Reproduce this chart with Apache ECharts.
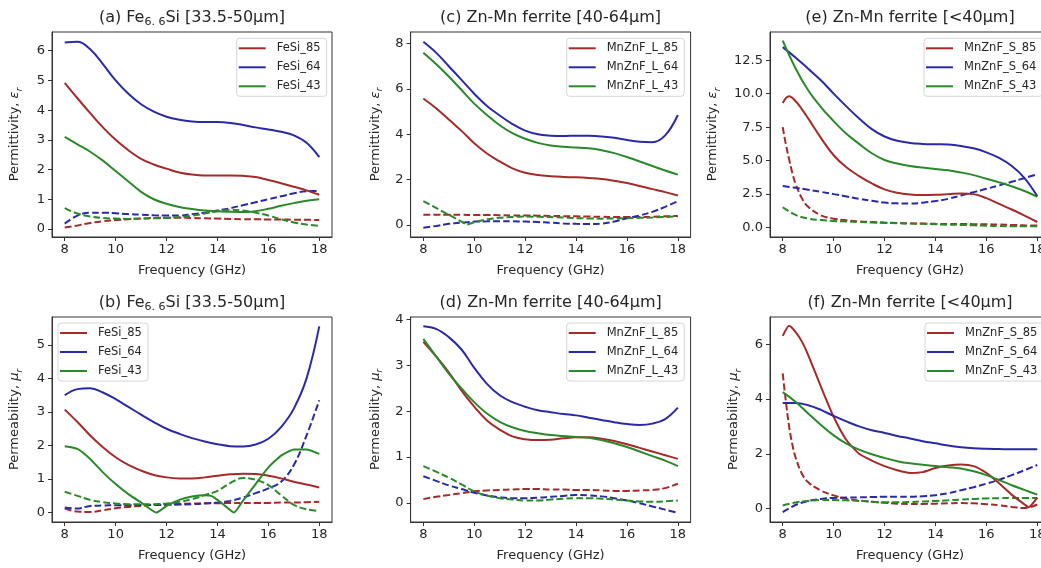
<!DOCTYPE html>
<html>
<head>
<meta charset="utf-8">
<script src="https://cdn.jsdelivr.net/npm/echarts@6/dist/echarts.min.js"></script>
<style>
  html, body { margin: 0; padding: 0; overflow: hidden; background: #fff; }
  #chart { width: 1056px; height: 568px; }
</style>
</head>
<body>
<div id="chart"></div>
<script>
// Frequency grids (GHz)
const freq = [8, 8.5, 9, 9.5, 10, 10.5, 11, 11.5, 12, 12.5, 13, 13.5, 14, 14.5, 15, 15.5, 16, 16.5, 17, 17.5, 18];
const freqFine = [8, 8.25, 8.5, 8.75, 9, 9.5, 10, 10.5, 11, 11.5, 12, 12.5, 13, 13.5, 14, 14.5, 15, 15.5, 16, 16.5, 17, 17.5, 18];
const freqSteep = [8, 8.125, 8.25, 8.375, 8.5, 8.75, 9, 9.5, 10, 10.5, 11, 11.5, 12, 12.5, 13, 13.5, 14, 14.5, 15, 15.5, 16, 16.5, 17, 17.5, 18];
const freqB43 = [8, 8.5, 9, 9.5, 10, 10.5, 11, 11.6, 12, 12.5, 13, 13.5, 13.75, 14, 14.3, 14.65, 15, 15.5, 16, 16.5, 17, 17.5, 18];
const freqC43 = [8, 8.5, 9, 9.5, 9.7, 10, 10.5, 11, 11.5, 12, 13, 14, 15, 16, 17, 18];
const freqF85 = [8, 8.25, 8.5, 8.75, 9, 9.5, 10, 10.5, 11, 11.5, 12, 12.5, 13, 13.5, 14, 14.5, 15, 15.5, 16, 16.5, 17, 17.5, 17.65, 18];

// Axis ticks
const xTicks = [8, 10, 12, 14, 16, 18];
const yTicksA = [0, 1, 2, 3, 4, 5, 6];
const yTicksB = [0, 1, 2, 3, 4, 5];
const yTicksC = [0, 2, 4, 6, 8];
const yTicksD = [0, 1, 2, 3, 4];
const yTicksE = [0, 2.5, 5, 7.5, 10, 12.5];
const yTicksF = [0, 2, 4, 6];

// (a) Fe6.6Si permittivity: real (solid) and imaginary (dashed)
const epsFeSi85 = [4.92, 4.4, 3.9, 3.42, 3.0, 2.65, 2.36, 2.17, 2.03, 1.9, 1.83, 1.8, 1.8, 1.8, 1.79, 1.75, 1.65, 1.54, 1.42, 1.3, 1.15];
const epsFeSi64 = [6.28, 6.3, 6.05, 5.55, 5.0, 4.55, 4.2, 3.95, 3.78, 3.68, 3.62, 3.6, 3.6, 3.57, 3.5, 3.42, 3.35, 3.27, 3.15, 2.9, 2.42];
const epsFeSi43 = [3.1, 2.85, 2.6, 2.3, 1.95, 1.6, 1.25, 1.0, 0.85, 0.74, 0.67, 0.62, 0.6, 0.58, 0.57, 0.6, 0.68, 0.78, 0.87, 0.95, 1.0];
const epsImFeSi85 = [0.05, 0.12, 0.2, 0.26, 0.3, 0.33, 0.35, 0.37, 0.38, 0.38, 0.37, 0.36, 0.35, 0.34, 0.33, 0.33, 0.32, 0.32, 0.31, 0.31, 0.3];
const epsImFeSi64 = [0.18, 0.45, 0.55, 0.55, 0.53, 0.5, 0.48, 0.46, 0.45, 0.45, 0.5, 0.55, 0.62, 0.7, 0.8, 0.9, 1.0, 1.1, 1.2, 1.27, 1.28];
const epsImFeSi43 = [0.7, 0.52, 0.42, 0.37, 0.35, 0.34, 0.35, 0.36, 0.37, 0.4, 0.45, 0.52, 0.6, 0.65, 0.62, 0.55, 0.45, 0.33, 0.22, 0.15, 0.1];

// (b) Fe6.6Si permeability
const muFeSi85 = [3.07, 2.7, 2.3, 1.95, 1.65, 1.42, 1.25, 1.12, 1.05, 1.02, 1.02, 1.05, 1.1, 1.14, 1.16, 1.15, 1.1, 1.02, 0.92, 0.84, 0.75];
const muFeSi64 = [3.5, 3.68, 3.71, 3.58, 3.38, 3.15, 2.92, 2.7, 2.5, 2.35, 2.22, 2.12, 2.04, 1.98, 1.97, 2.03, 2.2, 2.55, 3.1, 4.0, 5.55];
const muFeSi43 = [1.98, 1.9, 1.6, 1.2, 0.85, 0.55, 0.3, 0.0, 0.2, 0.38, 0.48, 0.52, 0.5, 0.38, 0.2, 0.0, 0.35, 0.85, 1.35, 1.7, 1.88, 1.88, 1.75];
const muImFeSi85 = [0.12, 0.03, 0.02, 0.07, 0.13, 0.17, 0.2, 0.23, 0.25, 0.26, 0.27, 0.28, 0.28, 0.29, 0.29, 0.29, 0.29, 0.3, 0.3, 0.31, 0.32];
const muImFeSi64 = [0.15, 0.12, 0.2, 0.21, 0.22, 0.22, 0.23, 0.23, 0.23, 0.24, 0.25, 0.27, 0.3, 0.35, 0.45, 0.58, 0.72, 0.92, 1.42, 2.3, 3.35];
const muImFeSi43 = [0.62, 0.5, 0.38, 0.31, 0.27, 0.25, 0.25, 0.25, 0.27, 0.32, 0.4, 0.52, 0.65, 0.88, 1.03, 0.98, 0.82, 0.52, 0.23, 0.1, 0.05];

// (c) Zn-Mn ferrite 40-64 um permittivity
const epsL85 = [5.58, 5.15, 4.65, 4.15, 3.6, 3.15, 2.8, 2.5, 2.3, 2.2, 2.15, 2.12, 2.1, 2.07, 2.03, 1.95, 1.85, 1.72, 1.58, 1.45, 1.3];
const epsL64 = [8.08, 7.6, 7.0, 6.4, 5.79, 5.25, 4.83, 4.45, 4.16, 4.0, 3.94, 3.92, 3.94, 3.93, 3.9, 3.85, 3.75, 3.67, 3.65, 3.95, 4.85];
const epsL43 = [7.6, 7.1, 6.55, 5.95, 5.35, 4.85, 4.4, 4.05, 3.8, 3.62, 3.5, 3.45, 3.42, 3.38, 3.3, 3.17, 3.0, 2.8, 2.6, 2.4, 2.22];
const epsImL85 = [0.45, 0.45, 0.45, 0.45, 0.44, 0.44, 0.43, 0.42, 0.42, 0.41, 0.4, 0.39, 0.38, 0.37, 0.36, 0.35, 0.35, 0.35, 0.36, 0.38, 0.4];
const epsImL64 = [-0.12, -0.04, 0.05, 0.1, 0.15, 0.16, 0.17, 0.16, 0.15, 0.13, 0.1, 0.07, 0.05, 0.04, 0.06, 0.15, 0.3, 0.42, 0.58, 0.8, 1.05];
const epsImL43 = [1.05, 0.75, 0.45, 0.15, 0.02, 0.12, 0.25, 0.32, 0.35, 0.37, 0.35, 0.3, 0.28, 0.3, 0.33, 0.38];

// (d) Zn-Mn ferrite 40-64 um permeability
const muL85 = [3.52, 3.2, 2.85, 2.45, 2.1, 1.8, 1.6, 1.45, 1.39, 1.37, 1.38, 1.41, 1.43, 1.43, 1.4, 1.35, 1.28, 1.2, 1.12, 1.04, 0.96];
const muL64 = [3.86, 3.8, 3.62, 3.35, 2.95, 2.6, 2.35, 2.2, 2.1, 2.02, 1.98, 1.94, 1.91, 1.86, 1.81, 1.76, 1.72, 1.7, 1.73, 1.83, 2.08];
const muL43 = [3.58, 3.2, 2.82, 2.5, 2.2, 1.95, 1.77, 1.65, 1.57, 1.52, 1.48, 1.46, 1.44, 1.42, 1.37, 1.3, 1.22, 1.12, 1.02, 0.92, 0.8];
const muImL85 = [0.08, 0.13, 0.17, 0.21, 0.25, 0.27, 0.28, 0.29, 0.3, 0.3, 0.29, 0.29, 0.28, 0.28, 0.27, 0.26, 0.26, 0.27, 0.28, 0.32, 0.42];
const muImL64 = [0.58, 0.48, 0.38, 0.3, 0.22, 0.16, 0.12, 0.1, 0.1, 0.11, 0.13, 0.15, 0.17, 0.16, 0.14, 0.1, 0.05, -0.01, -0.08, -0.15, -0.22];
const muImL43 = [0.8, 0.68, 0.55, 0.4, 0.25, 0.16, 0.1, 0.07, 0.05, 0.05, 0.07, 0.09, 0.1, 0.1, 0.09, 0.07, 0.05, 0.03, 0.02, 0.03, 0.05];

// (e) Zn-Mn ferrite <40 um permittivity
const epsS85 = [9.3, 9.8, 9.45, 8.85, 8.15, 6.7, 5.4, 4.5, 3.85, 3.3, 2.85, 2.6, 2.47, 2.43, 2.45, 2.5, 2.55, 2.5, 2.2, 1.77, 1.35, 0.9, 0.42];
const epsS64 = [13.47, 12.7, 11.86, 11.0, 10.0, 9.05, 8.15, 7.35, 6.8, 6.48, 6.32, 6.25, 6.22, 6.2, 6.1, 5.92, 5.62, 5.2, 4.6, 3.7, 2.35];
const epsS43 = [13.95, 11.9, 10.25, 9.0, 7.95, 7.0, 6.25, 5.55, 5.05, 4.78, 4.6, 4.48, 4.38, 4.28, 4.12, 3.92, 3.65, 3.38, 3.08, 2.73, 2.3];
const epsImS85 = [7.5, 6.2, 5.1, 4.1, 3.3, 2.2, 1.55, 0.92, 0.67, 0.55, 0.47, 0.42, 0.38, 0.35, 0.32, 0.3, 0.28, 0.27, 0.27, 0.26, 0.25, 0.23, 0.2, 0.17, 0.15];
const epsImS64 = [3.1, 2.97, 2.83, 2.67, 2.5, 2.33, 2.15, 2.0, 1.87, 1.81, 1.8, 1.86, 1.98, 2.15, 2.4, 2.65, 2.9, 3.15, 3.42, 3.7, 3.98];
const epsImS43 = [1.52, 0.95, 0.68, 0.57, 0.5, 0.45, 0.42, 0.38, 0.35, 0.33, 0.3, 0.28, 0.25, 0.22, 0.2, 0.17, 0.14, 0.12, 0.1, 0.1, 0.1];

// (f) Zn-Mn ferrite <40 um permeability
const muS85 = [6.3, 6.67, 6.45, 6.1, 5.6, 4.45, 3.35, 2.5, 2.0, 1.75, 1.55, 1.4, 1.3, 1.33, 1.48, 1.57, 1.61, 1.55, 1.3, 0.92, 0.5, 0.15, 0.05, 0.4];
const muS64 = [3.85, 3.85, 3.77, 3.6, 3.38, 3.18, 3.0, 2.86, 2.76, 2.65, 2.56, 2.46, 2.38, 2.3, 2.24, 2.2, 2.18, 2.17, 2.16, 2.16, 2.16];
const muS43 = [4.25, 3.9, 3.47, 3.05, 2.67, 2.37, 2.15, 1.98, 1.85, 1.73, 1.65, 1.6, 1.55, 1.51, 1.46, 1.36, 1.22, 1.04, 0.85, 0.68, 0.51];
const muImS85 = [4.93, 3.9, 3.0, 2.35, 1.88, 1.28, 0.96, 0.66, 0.48, 0.36, 0.29, 0.25, 0.21, 0.18, 0.17, 0.17, 0.18, 0.19, 0.2, 0.19, 0.16, 0.12, 0.06, 0.02, 0.15];
const muImS64 = [-0.13, 0.13, 0.28, 0.35, 0.39, 0.4, 0.41, 0.42, 0.43, 0.43, 0.43, 0.45, 0.49, 0.56, 0.67, 0.78, 0.91, 1.05, 1.22, 1.4, 1.59];
const muImS43 = [0.11, 0.22, 0.28, 0.31, 0.31, 0.3, 0.28, 0.25, 0.23, 0.23, 0.24, 0.26, 0.28, 0.3, 0.33, 0.35, 0.37, 0.38, 0.39, 0.39, 0.39];

const FONT = 'DejaVu Sans';
const RED = '#a52a2a';
const BLUE = '#2a2aa8';
const GREEN = '#2a8a2a';
const INK = '#262626';

const COLS = [52, 410.6, 770];
const ROWS = [32, 317];
const PW = 280, PH = 205;

const EPS_NAME = 'Permittivity, {m|ε}{s|r}';
const MU_NAME = 'Permeability, {m|μ}{s|r}';

function line(name, xs, ys, color, dashed, smooth) {
  return { name, xs, ys, color, dashed, smooth: smooth == null ? 0.4 : smooth };
}

const panels = [
  { col: 0, row: 0, title: '(a) Fe{s|6. 6}Si [33.5-50μm]', ymin: -0.27, ymax: 6.63, ticks: yTicksA,
    yname: EPS_NAME, nameGap: 28, legend: { left: 236.7, top: 38.3 },
    lines: [
      line('FeSi_85', freq, epsFeSi85, RED), line('FeSi_64', freq, epsFeSi64, BLUE), line('FeSi_43', freq, epsFeSi43, GREEN),
      line('FeSi_85 imag', freq, epsImFeSi85, RED, true), line('FeSi_64 imag', freq, epsImFeSi64, BLUE, true), line('FeSi_43 imag', freq, epsImFeSi43, GREEN, true)
    ] },
  { col: 0, row: 1, title: '(b) Fe{s|6. 6}Si [33.5-50μm]', ymin: -0.28, ymax: 5.83, ticks: yTicksB,
    yname: MU_NAME, nameGap: 28, legend: { left: 58, top: 323 },
    lines: [
      line('FeSi_85', freq, muFeSi85, RED), line('FeSi_64', freq, muFeSi64, BLUE), line('FeSi_43', freqB43, muFeSi43, GREEN, false, 0.15),
      line('FeSi_85 imag', freq, muImFeSi85, RED, true), line('FeSi_64 imag', freq, muImFeSi64, BLUE, true), line('FeSi_43 imag', freq, muImFeSi43, GREEN, true)
    ] },
  { col: 1, row: 0, title: '(c) Zn-Mn ferrite [40-64μm]', ymin: -0.53, ymax: 8.51, ticks: yTicksC,
    yname: EPS_NAME, nameGap: 26, legend: { left: 566.7, top: 38.3 },
    lines: [
      line('MnZnF_L_85', freq, epsL85, RED), line('MnZnF_L_64', freq, epsL64, BLUE), line('MnZnF_L_43', freq, epsL43, GREEN),
      line('MnZnF_L_85 imag', freq, epsImL85, RED, true), line('MnZnF_L_64 imag', freq, epsImL64, BLUE, true), line('MnZnF_L_43 imag', freqC43, epsImL43, GREEN, true, 0.15)
    ] },
  { col: 1, row: 1, title: '(d) Zn-Mn ferrite [40-64μm]', ymin: -0.42, ymax: 4.06, ticks: yTicksD,
    yname: MU_NAME, nameGap: 26, legend: { left: 566.7, top: 323 },
    lines: [
      line('MnZnF_L_85', freq, muL85, RED), line('MnZnF_L_64', freq, muL64, BLUE), line('MnZnF_L_43', freq, muL43, GREEN),
      line('MnZnF_L_85 imag', freq, muImL85, RED, true), line('MnZnF_L_64 imag', freq, muImL64, BLUE, true), line('MnZnF_L_43 imag', freq, muImL43, GREEN, true)
    ] },
  { col: 2, row: 0, title: '(e) Zn-Mn ferrite [<40μm]', ymin: -0.7, ymax: 14.6, ticks: yTicksE, fixed: 1,
    yname: EPS_NAME, nameGap: 48, legend: { left: 924, top: 38.3 },
    lines: [
      line('MnZnF_S_85', freqFine, epsS85, RED), line('MnZnF_S_64', freq, epsS64, BLUE), line('MnZnF_S_43', freq, epsS43, GREEN),
      line('MnZnF_S_85 imag', freqSteep, epsImS85, RED, true), line('MnZnF_S_64 imag', freq, epsImS64, BLUE, true), line('MnZnF_S_43 imag', freq, epsImS43, GREEN, true)
    ] },
  { col: 2, row: 1, title: '(f) Zn-Mn ferrite [<40μm]', ymin: -0.49, ymax: 6.99, ticks: yTicksF,
    yname: MU_NAME, nameGap: 27, legend: { left: 925, top: 323 },
    lines: [
      line('MnZnF_S_85', freqF85, muS85, RED, false, 0.2), line('MnZnF_S_64', freq, muS64, BLUE), line('MnZnF_S_43', freq, muS43, GREEN),
      line('MnZnF_S_85 imag', freqSteep, muImS85, RED, true), line('MnZnF_S_64 imag', freq, muImS64, BLUE, true), line('MnZnF_S_43 imag', freq, muImS43, GREEN, true)
    ] }
];

const tickFont = { fontFamily: FONT, fontSize: 13, color: INK };

const option = {
  animation: false,
  backgroundColor: '#fff',
  textStyle: { fontFamily: FONT },
  title: [], grid: [], xAxis: [], yAxis: [], legend: [], series: []
};

panels.forEach((p, i) => {
  const left = COLS[p.col], top = ROWS[p.row];
  option.title.push({
    text: p.title, left: left + PW / 2, top: top - 24, textAlign: 'center', padding: 0,
    textStyle: {
      fontFamily: FONT, fontSize: 16, fontWeight: 'normal', color: INK, lineHeight: 20,
      rich: { s: { fontFamily: FONT, fontSize: 11, lineHeight: 11, verticalAlign: 'bottom', color: INK } }
    }
  });
  option.grid.push({
    left, top, width: PW, height: PH, show: true, borderColor: '#333', borderWidth: 1, containLabel: false
  });
  option.xAxis.push({
    type: 'value', gridIndex: i, min: 7.5, max: 18.5,
    name: 'Frequency (GHz)', nameLocation: 'middle', nameGap: 27,
    nameTextStyle: { fontFamily: FONT, fontSize: 13, color: INK },
    axisLine: { show: true, onZero: false, lineStyle: { color: '#333', width: 1 } },
    axisTick: { show: true, length: 4, customValues: xTicks, lineStyle: { color: '#333' } },
    axisLabel: Object.assign({ customValues: xTicks, margin: 6 }, tickFont),
    splitLine: { show: false }
  });
  option.yAxis.push({
    type: 'value', gridIndex: i, min: p.ymin, max: p.ymax,
    name: p.yname, nameLocation: 'middle', nameRotate: 90, nameGap: p.nameGap,
    nameTextStyle: {
      fontFamily: FONT, fontSize: 13, color: INK, lineHeight: 18,
      rich: {
        m: { fontFamily: FONT, fontSize: 13, fontStyle: 'italic', color: INK, lineHeight: 18 },
        s: { fontFamily: FONT, fontSize: 9, fontStyle: 'italic', color: INK, lineHeight: 10, verticalAlign: 'bottom' }
      }
    },
    axisLine: { show: true, onZero: false, lineStyle: { color: '#333', width: 1 } },
    axisTick: { show: true, length: 4, customValues: p.ticks, lineStyle: { color: '#333' } },
    axisLabel: Object.assign({
      customValues: p.ticks, margin: 7,
      formatter: v => (p.fixed ? v.toFixed(p.fixed) : String(v))
    }, tickFont),
    splitLine: { show: false }
  });
  option.legend.push({
    data: p.lines.filter(l => !l.dashed).map(l => l.name),
    left: p.legend.left, top: p.legend.top, orient: 'vertical',
    icon: 'rect', itemWidth: 27, itemHeight: 2, itemGap: 5,
    padding: [3, 6, 3, 2],
    borderColor: '#d6d6d6', borderWidth: 1, borderRadius: 3,
    backgroundColor: 'rgba(255,255,255,0.8)',
    selectedMode: false,
    textStyle: { fontFamily: FONT, fontSize: 11.5, color: INK, lineHeight: 14, padding: [0, 0, 0, 6] }
  });
  p.lines.forEach(l => {
    option.series.push({
      type: 'line', name: l.name, xAxisIndex: i, yAxisIndex: i,
      data: l.xs.map((x, k) => [x, l.ys[k]]),
      showSymbol: false, symbol: 'none', smooth: l.smooth, silent: true,
      itemStyle: { color: l.color },
      lineStyle: { color: l.color, width: 2, type: l.dashed ? [7, 3] : 'solid' },
      z: l.dashed ? 2 : 3
    });
  });
});

const chart = echarts.init(document.getElementById('chart'), null, { renderer: 'canvas' });
chart.setOption(option);
</script>
</body>
</html>
